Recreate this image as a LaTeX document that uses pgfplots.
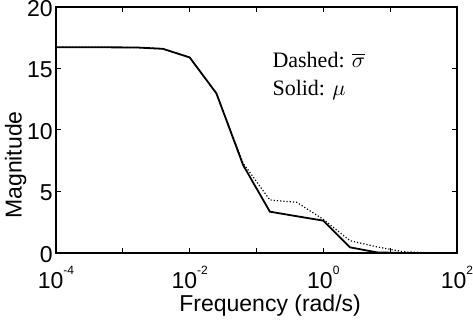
\documentclass[border=0pt]{standalone}
\usepackage{fontspec}
\setmainfont{Liberation Sans}
\newfontfamily\timesfont{Liberation Serif}
\usepackage{pgfplots}
\usepackage{pgfplotstable}
\pgfplotsset{compat=1.18}
\newcommand{\tp}[1]{10\raisebox{7pt}{\fontsize{6}{6}\selectfont #1}}
\pgfplotstableread{
x mu sig
0.0001 16.72 16.72
0.0002512 16.72 16.72
0.000631 16.72 16.72
0.001585 16.71 16.71
0.003981 16.60 16.60
0.01 15.90 15.90
0.02512 12.98 12.98
0.0631 7.15 7.30
0.1585 3.36 4.31
0.3981 2.99 4.12
1.0 2.63 2.74
2.512 0.46 1.00
6.31 0.05 0.50
15.85 0.00 0.10
39.81 0.00 0.02
100 0.00 0.00
}\datatable
\begin{document}
\begin{tikzpicture}
\begin{semilogxaxis}[
  scale only axis, width=200.5pt, height=123pt,
  xmin=1e-4, xmax=1e2, ymin=0, ymax=20,
  xtick={1e-4,1e-3,1e-2,1e-1,1,10,100},
  xticklabels={\tp{-4},,\tp{-2},,\tp{0},,\tp{2}},
  xminorticks=false,
  ytick={0,5,10,15,20}, yticklabels={0,5,10,15,20},
  tick align=inside, major tick length=2.5pt,
  tick style={black, line width=0.5pt},
  axis line style={line width=0.8pt},
  ticklabel style={font=\fontsize{11.5}{13}\selectfont},
  xticklabel style={anchor=base, yshift=-18pt, inner sep=0pt},
  yticklabel style={inner xsep=1.5pt, inner ysep=0pt, yshift=-0.8pt},
  xlabel={Frequency (rad/s)}, ylabel={Magnitude},
  label style={font=\fontsize{11.5}{13}\selectfont, inner sep=0pt},
  xlabel style={at={(rel axis cs:0.534,0)}, anchor=base, yshift=-29.5pt},
  ylabel style={at={(rel axis cs:-0.0855,0.358)}, anchor=base},
]
\addplot[black, line width=0.9pt] table[x=x, y=mu] {\datatable};
\addplot[black, line width=0.6pt, densely dotted] table[x=x, y=sig] {\datatable};
\node[anchor=base west, font=\timesfont\fontsize{11}{12}\selectfont, inner sep=0pt] at (rel axis cs:0.539,0.756) {Dashed: $\overline{\sigma}$};
\node[anchor=base west, font=\timesfont\fontsize{11}{12}\selectfont, inner sep=0pt] at (rel axis cs:0.539,0.642) {Solid: $\mu$};
\coordinate (bl) at (rel axis cs:0,0);
\coordinate (tr) at (rel axis cs:1,1);
\end{semilogxaxis}
\pgfresetboundingbox
\path[use as bounding box] ([shift={(-28pt,-33.5pt)}]bl) rectangle ([shift={(8pt,3.5pt)}]tr);
\end{tikzpicture}
\end{document}
